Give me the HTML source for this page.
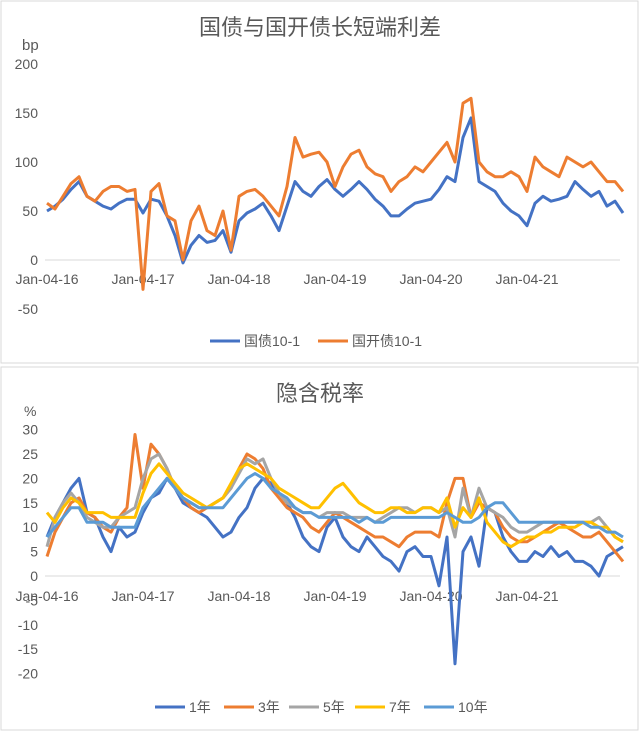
<!DOCTYPE html>
<html><head><meta charset="utf-8">
<style>
body{margin:0;background:#fff;width:640px;height:732px;overflow:hidden;font-family:"Liberation Sans","Noto Sans CJK SC",sans-serif;}
svg{display:block}
text{font-family:"Liberation Sans","Noto Sans CJK SC",sans-serif;}
</style></head>
<body>
<svg id="c" width="640" height="732">
<rect x="1" y="1" width="637" height="362" fill="#fff" stroke="#d9d9d9"/>
<rect x="1" y="367" width="637" height="363" fill="#fff" stroke="#d9d9d9"/>
<text x="320" y="35" text-anchor="middle" font-size="22" fill="#595959">国债与国开债长短端利差</text>
<text x="22" y="50" font-size="15" fill="#595959">bp</text>
<text x="320" y="401" text-anchor="middle" font-size="22" fill="#595959">隐含税率</text>
<text x="24" y="416" font-size="14" fill="#595959">%</text>
<g id="top"></g><g id="bot"></g>
</svg>
<script>
const yearLabels=["Jan-04-16","Jan-04-17","Jan-04-18","Jan-04-19","Jan-04-20","Jan-04-21"];
const topTicks=[200,150,100,50,0,-50];
const botTicks=[30,25,20,15,10,5,0,-5,-10,-15,-20];
const gov=[50,55,62,72,80,65,60,55,52,58,62,62, 48,62,60,45,25,-3,15,25,18,20,30,8, 40,48,52,58,45,30,55,80,70,65,75,82, 72,65,72,80,72,62,55,45,45,52,58,60, 62,72,85,80,125,145,80,75,70,58,50,45, 35,58,65,60,62,65,80,72,65,70,55,60,48];
const cdb=[58,52,65,78,85,65,60,70,75,75,70,72, -30,70,78,45,40,0,40,55,30,25,50,10, 65,70,72,65,55,45,75,125,105,108,110,100, 75,95,108,112,95,88,85,70,80,85,95,90, 100,110,120,100,160,165,100,90,85,85,90,85, 70,105,95,90,85,105,100,95,100,90,80,80,70];
const y1=[8,12,15,18,20,13,12,8,5,10,8,9, 13,16,17,20,18,15,14,13,12,10,8,9, 12,14,18,20,19,17,15,12,8,6,5,10, 12,8,6,5,8,6,4,3,1,5,6,4, 4,-2,8,-18,5,8,2,14,13,8,5,3, 3,5,4,6,4,5,3,3,2,0,4,5,6];
const y3=[4,9,12,15,16,13,12,10,9,12,14,29, 18,27,25,22,18,16,14,13,14,15,16,18, 22,25,24,22,18,16,14,13,12,10,9,11, 13,12,11,10,9,8,8,7,6,8,9,9, 9,8,15,20,20,12,15,14,13,10,8,7, 7,8,9,10,11,10,9,8,8,9,7,5,3];
const y5=[6,12,15,17,15,12,11,10,10,12,13,14, 20,24,25,22,18,16,15,14,14,15,16,18, 21,24,23,24,20,17,15,14,13,13,12,13, 13,13,12,12,12,11,12,13,14,14,13,14, 14,13,14,8,18,12,18,14,13,12,10,9, 9,10,11,11,11,11,11,11,11,12,10,8,7];
const y7=[13,11,14,16,15,13,13,13,12,12,12,12, 17,21,23,21,19,17,16,15,14,15,16,19, 22,23,22,21,20,18,17,16,15,14,14,16, 18,19,17,15,14,13,13,14,14,13,13,14, 14,13,16,10,14,12,16,11,9,7,6,7, 8,8,9,9,10,10,10,11,11,10,10,8,7];
const y10=[8,10,12,14,14,11,11,11,10,10,10,10, 14,16,18,20,18,16,15,14,14,14,14,16, 18,20,21,20,18,17,16,14,13,13,12,12, 12,12,12,11,12,11,11,12,12,12,12,12, 12,12,13,12,11,11,12,14,15,15,13,11, 11,11,11,11,11,11,11,11,10,10,9,9,8];
const NS="http://www.w3.org/2000/svg";
function mk(p,t,a){const e=document.createElementNS(NS,t);for(const k in a)e.setAttribute(k,a[k]);p.appendChild(e);return e;}
const xm=i=>47+i*8;
function chart(g,ticks,yfun,x0y,xly,series,legY,legItems){
  ticks.forEach(v=>{const t=mk(g,'text',{x:38,y:yfun(v)+5,'text-anchor':'end','font-size':14,fill:'#595959'});t.textContent=v;
    
    });
  const ax=mk(g,'line',{x1:45,x2:620,y1:x0y,y2:x0y,stroke:'#d9d9d9','stroke-width':1});
  
  
  yearLabels.forEach((l,i)=>{const t=mk(g,'text',{x:xm(i*12),y:xly,'text-anchor':'middle','font-size':14,fill:'#595959'});t.textContent=l;
    
    });
  series.forEach(s=>{const d=s.data.map((v,i)=>(i?'L':'M')+xm(i).toFixed(1)+','+yfun(v).toFixed(1)).join('');
    const p=mk(g,'path',{d:d,fill:'none',stroke:s.color,'stroke-width':3,'stroke-linejoin':'round'});
    
    });
  legItems.forEach(l=>{const ln=mk(g,'line',{x1:l.x,x2:l.x+30,y1:legY,y2:legY,stroke:l.color,'stroke-width':3});
    
    
    const t=mk(g,'text',{x:l.x+34,y:legY+5,'font-size':14,fill:'#595959'});t.textContent=l.label;
    
    });
}
const B='#4472c4',O='#ed7d31',G='#a5a5a5',Y='#ffc000',L='#5b9bd5';
chart(document.getElementById('top'),topTicks,v=>260-v*0.98,260,284,
 [{name:'gov',data:gov,color:B},{name:'cdb',data:cdb,color:O}],341,
 [{x:210,color:B,label:'国债10-1'},{x:318,color:O,label:'国开债10-1'}]);
chart(document.getElementById('bot'),botTicks,v=>576-v*4.88,576,601,
 [{name:'1y',data:y1,color:B},{name:'3y',data:y3,color:O},{name:'5y',data:y5,color:G},{name:'7y',data:y7,color:Y},{name:'10y',data:y10,color:L}],707,
 [{x:155,color:B,label:'1年'},{x:224,color:O,label:'3年'},{x:289,color:G,label:'5年'},{x:355,color:Y,label:'7年'},{x:424,color:L,label:'10年'}]);
</script>
</body></html>
